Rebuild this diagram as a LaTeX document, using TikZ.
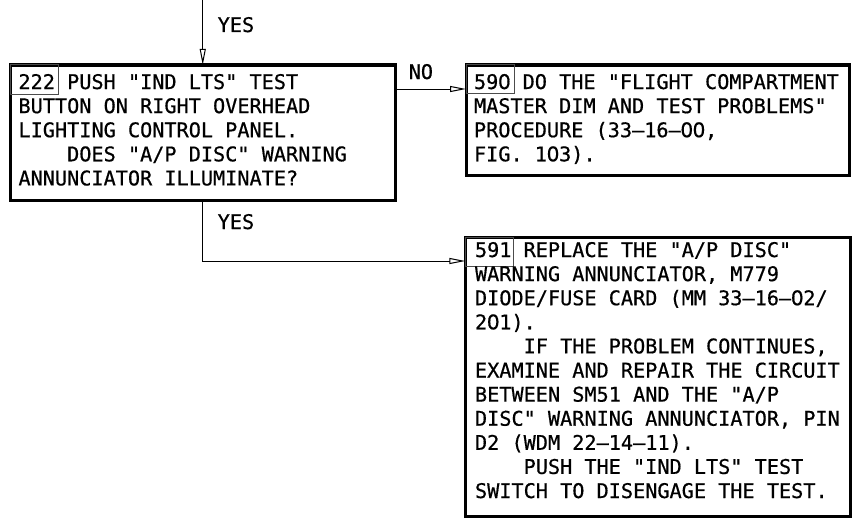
\documentclass[tikz,border=0pt]{standalone}
\usepackage{fontspec}
\newfontfamily\mono[FakeBold=0.6]{DejaVu Sans Mono}
\newfontfamily\zerofont[FakeBold=0.6]{DejaVu Sans}
\usetikzlibrary{arrows.meta}
\newcommand\zr{\makebox[0.602em]{\zerofont 0}}
\newcommand\ind{\hspace*{2.408em}}
\newcommand\fst{\rule{0pt}{16pt}}
\begin{document}
\begin{tikzpicture}[x=1pt,y=-1pt,
  outer/.style={draw, line width=3pt, rectangle, inner sep=0pt, outer sep=0pt, anchor=north west},
  numbox/.style={draw=black!70, line width=1pt, rectangle, inner sep=0pt, outer sep=0pt, anchor=north west},
  txt/.style={anchor=north west, inner sep=0pt, outer sep=0pt, align=left, font=\mono\fontsize{20.2}{24.1}\selectfont\frenchspacing},
  lbl/.style={anchor=base west, inner sep=0pt, font=\mono\fontsize{20.2}{24.1}\selectfont},
  conn/.style={line width=1pt},
  arr/.style={conn, -{Triangle[open, length=16pt, width=6pt]}},
]
\useasboundingbox (0,0) rectangle (856,519);

% boxes
\node[outer, minimum width=384.5pt, minimum height=135pt] (b222) at (10.5,65) {};
\node[outer, minimum width=383.5pt, minimum height=110pt] (b590) at (466,65) {};
\node[outer, minimum width=385pt, minimum height=279.7pt] (b591) at (465.3,237) {};

% number boxes
\node[numbox, minimum width=47.8pt, minimum height=29.3pt] (n222) at (10.5,65) {};
\node[numbox, minimum width=48pt, minimum height=28.3pt] (n590) at (466,65) {};
\node[numbox, minimum width=48pt, minimum height=29pt] (n591) at (465.3,237) {};

% texts
\node[txt] (t222) at (18.5,73) {\fst 222 PUSH "IND LTS" TEST\\
BUTTON ON RIGHT OVERHEAD\\
LIGHTING CONTROL PANEL.\\
\ind DOES "A/P DISC" WARNING\\
ANNUNCIATOR ILLUMINATE?};

\node[txt] (t590) at (474,73) {\fst 59\zr{} DO THE "FLIGHT COMPARTMENT\\
MASTER DIM AND TEST PROBLEMS"\\
PROCEDURE (33–16–\zr\zr,\\
FIG. 1\zr3).};

\node[txt] (t591) at (475,241) {\fst 591 REPLACE THE "A/P DISC"\\
WARNING ANNUNCIATOR, M779\\
DIODE/FUSE CARD (MM 33–16–\zr2/\\
2\zr1).\\
\ind IF THE PROBLEM CONTINUES,\\
EXAMINE AND REPAIR THE CIRCUIT\\
BETWEEN SM51 AND THE "A/P\\
DISC" WARNING ANNUNCIATOR, PIN\\
D2 (WDM 22–14–11).\\
\ind PUSH THE "IND LTS" TEST\\
SWITCH TO DISENGAGE THE TEST.};

% labels
\node[lbl] (yes1) at (217.5,32) {YES};
\node[lbl] (yes2) at (217.5,229) {YES};
\node[lbl] (no) at (408.5,79) {NO};

% connectors
\coordinate (top) at (b222.north |- 0,0);
\draw[arr] (top) -- (b222.north);
\coordinate (c1) at ([yshift=-24pt]b222.north east);
\draw[arr] (c1) -- (c1 -| b590.west);
\coordinate (c2) at ([yshift=-24pt]b591.north west);
\draw[arr] (b222.south) -- (b222.south |- c2) -- (c2);
\end{tikzpicture}
\end{document}
